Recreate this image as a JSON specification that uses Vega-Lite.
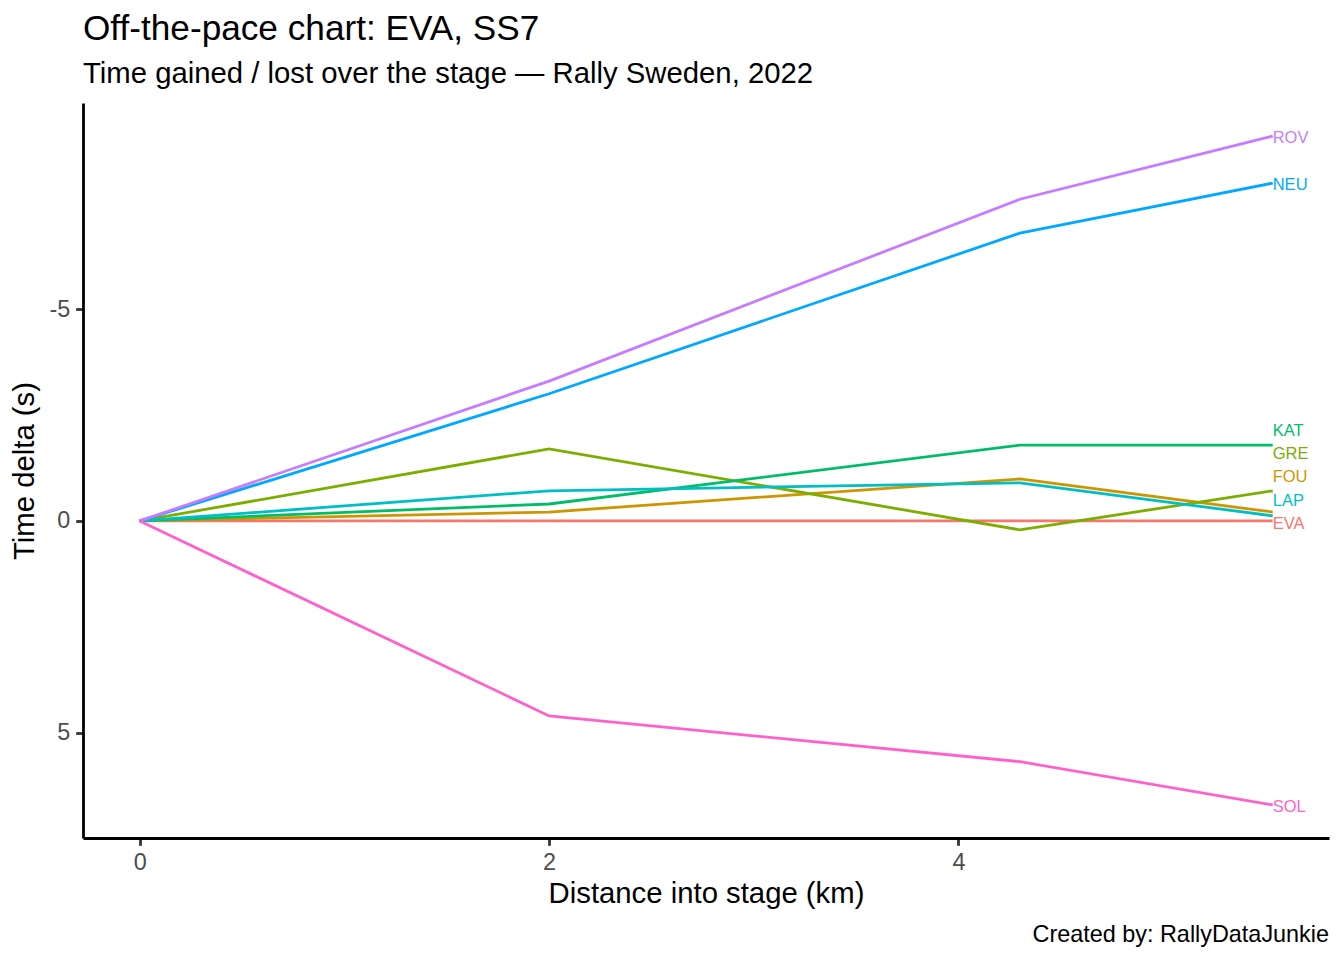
{
  "$schema": "https://vega.github.io/schema/vega-lite/v6.json",
  "background": "white",
  "padding": {"left": 10, "top": 11, "right": 15, "bottom": 12},
  "config": {
    "font": "Liberation Sans",
    "view": {"stroke": null},
    "axis": {
      "grid": false,
      "domainColor": "black",
      "domainWidth": 2.8,
      "tickColor": "#333333",
      "tickWidth": 2.8,
      "tickSize": 7.3,
      "labelColor": "#4D4D4D",
      "labelFontSize": 23.4,
      "labelFont": "Liberation Sans",
      "labelPadding": 5.9,
      "labelExpr": "toString(datum.value)",
      "titleColor": "black",
      "titleFontSize": 29.3,
      "titleFont": "Liberation Sans",
      "titleFontWeight": "normal"
    },
    "title": {
      "font": "Liberation Sans",
      "fontWeight": "normal",
      "color": "black",
      "subtitleFont": "Liberation Sans",
      "subtitleColor": "black"
    }
  },
  "title": {
    "text": "Created by: RallyDataJunkie",
    "orient": "bottom",
    "anchor": "end",
    "fontSize": 23.4,
    "offset": 15
  },
  "vconcat": [
    {
      "width": 1246,
      "height": 735,
      "title": {
        "text": "Off-the-pace chart: EVA, SS7",
        "subtitle": "Time gained / lost over the stage — Rally Sweden, 2022",
        "anchor": "start",
        "frame": "group",
        "fontSize": 35.2,
        "subtitleFontSize": 29.3,
        "subtitlePadding": 13,
        "offset": 14
      },
      "layer": [
        {
          "data": {
            "values": [
              {"driver": "EVA", "dist": 0, "delta": 0},
              {"driver": "EVA", "dist": 2, "delta": 0},
              {"driver": "EVA", "dist": 4.3, "delta": 0},
              {"driver": "EVA", "dist": 5.535, "delta": 0},
              {"driver": "FOU", "dist": 0, "delta": 0},
              {"driver": "FOU", "dist": 2, "delta": -0.21},
              {"driver": "FOU", "dist": 4.3, "delta": -0.99},
              {"driver": "FOU", "dist": 5.535, "delta": -0.21},
              {"driver": "GRE", "dist": 0, "delta": 0},
              {"driver": "GRE", "dist": 2, "delta": -1.7},
              {"driver": "GRE", "dist": 4.3, "delta": 0.21},
              {"driver": "GRE", "dist": 5.535, "delta": -0.71},
              {"driver": "KAT", "dist": 0, "delta": 0},
              {"driver": "KAT", "dist": 2, "delta": -0.4},
              {"driver": "KAT", "dist": 4.3, "delta": -1.79},
              {"driver": "KAT", "dist": 5.535, "delta": -1.79},
              {"driver": "LAP", "dist": 0, "delta": 0},
              {"driver": "LAP", "dist": 2, "delta": -0.71},
              {"driver": "LAP", "dist": 4.3, "delta": -0.9},
              {"driver": "LAP", "dist": 5.535, "delta": -0.12},
              {"driver": "NEU", "dist": 0, "delta": 0},
              {"driver": "NEU", "dist": 2, "delta": -3.0},
              {"driver": "NEU", "dist": 4.3, "delta": -6.79},
              {"driver": "NEU", "dist": 5.535, "delta": -7.97},
              {"driver": "ROV", "dist": 0, "delta": 0},
              {"driver": "ROV", "dist": 2, "delta": -3.3},
              {"driver": "ROV", "dist": 4.3, "delta": -7.59},
              {"driver": "ROV", "dist": 5.535, "delta": -9.08},
              {"driver": "SOL", "dist": 0, "delta": 0},
              {"driver": "SOL", "dist": 2, "delta": 4.6},
              {"driver": "SOL", "dist": 4.3, "delta": 5.68},
              {"driver": "SOL", "dist": 5.535, "delta": 6.7}
            ]
          },
          "mark": {"type": "line", "strokeWidth": 2.8},
          "encoding": {
            "x": {
              "field": "dist",
              "type": "quantitative",
              "scale": {"domain": [-0.277, 5.81], "nice": false, "zero": false},
              "axis": {"values": [0, 2, 4], "title": "Distance into stage (km)", "titlePadding": 6}
            },
            "y": {
              "field": "delta",
              "type": "quantitative",
              "scale": {"domain": [-9.86, 7.48], "nice": false, "zero": false, "reverse": true},
              "axis": {"values": [-5, 0, 5], "title": "Time delta (s)", "titlePadding": 10}
            },
            "color": {
              "field": "driver",
              "type": "nominal",
              "scale": {
                "domain": ["EVA", "FOU", "GRE", "KAT", "LAP", "NEU", "ROV", "SOL"],
                "range": ["#F8766D", "#CD9600", "#7CAE00", "#00BE67", "#00BFC4", "#00A9FF", "#C77CFF", "#FF61CC"]
              },
              "legend": null
            },
            "detail": {"field": "driver"}
          }
        },
        {
          "data": {
            "values": [
              {"driver": "ROV", "dist": 5.535, "label_y": -9.03},
              {"driver": "NEU", "dist": 5.535, "label_y": -7.92},
              {"driver": "KAT", "dist": 5.535, "label_y": -2.12},
              {"driver": "GRE", "dist": 5.535, "label_y": -1.58},
              {"driver": "FOU", "dist": 5.535, "label_y": -1.03},
              {"driver": "LAP", "dist": 5.535, "label_y": -0.47},
              {"driver": "EVA", "dist": 5.535, "label_y": 0.07},
              {"driver": "SOL", "dist": 5.535, "label_y": 6.75}
            ]
          },
          "mark": {"type": "text", "align": "left", "baseline": "middle", "fontSize": 16.5, "font": "Liberation Sans"},
          "encoding": {
            "x": {"field": "dist", "type": "quantitative"},
            "y": {"field": "label_y", "type": "quantitative"},
            "text": {"field": "driver"},
            "color": {"field": "driver", "type": "nominal", "legend": null}
          }
        }
      ]
    }
  ]
}
